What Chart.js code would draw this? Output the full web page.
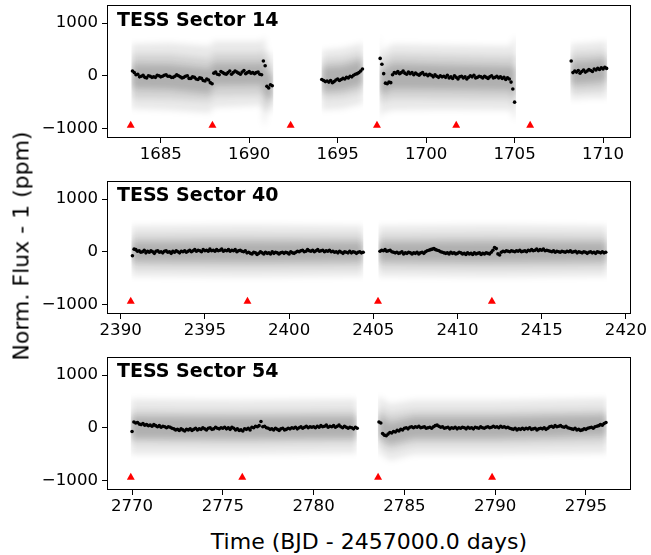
<!DOCTYPE html>
<html>
<head>
<meta charset="utf-8">
<script src="https://cdn.jsdelivr.net/npm/chart.js@4.4.0/dist/chart.umd.min.js"></script>
<style>
  body { margin: 0; background: #fff; }
  #fig { position: relative; width: 651px; height: 555px; background: #fff; font-family: "DejaVu Sans", sans-serif; color: #000; }
  #fig canvas { position: absolute; left: 0; }
  .sector { position: absolute; left: 117px; font-weight: bold; font-size: 19px; line-height: 19px; white-space: nowrap; }
  #ylab { position: absolute; left: 21px; top: 246px; font-size: 22px; white-space: nowrap; transform: translate(-50%, -50%) rotate(-90deg); }
  #xlab { position: absolute; left: 369px; top: 541px; font-size: 22px; white-space: nowrap; transform: translate(-50%, -50%); }
</style>
</head>
<body>
<div id="fig">
  <canvas id="c14" width="651" height="170" style="top:0px"></canvas>
  <canvas id="c40" width="651" height="170" style="top:176px"></canvas>
  <canvas id="c54" width="651" height="170" style="top:352px"></canvas>
  <div class="sector" style="top:10px">TESS Sector 14</div>
  <div class="sector" style="top:185px">TESS Sector 40</div>
  <div class="sector" style="top:361px">TESS Sector 54</div>
  <div id="ylab">Norm. Flux - 1 (ppm)</div>
  <div id="xlab">Time (BJD - 2457000.0 days)</div>
</div>
<script>
// axis ticks
const yTicks = [-1000, 0, 1000];
const s14Ticks = [1685, 1690, 1695, 1700, 1705, 1710];
const s40Ticks = [2390, 2395, 2400, 2405, 2410, 2415, 2420];
const s54Ticks = [2770, 2775, 2780, 2785, 2790, 2795];

// binned light curve: start time of each data segment + flux (ppm) per 0.1 d bin
const binWidth = 0.1;
const s14BinStart = [1683.4, 1694.1, 1697.4, 1708.2];
const s14BinFlux = [
  [90,60,20,30,-20,-10,10, -30,-40,0,-10,-30,-20,-30,10,0,-20, -10,10,20,-10,-10,-30,-30,-10,20,0,
   -20,-40,-30,-10,0,-50,-50,-20,-30,-60, -70,-40,-50,-90,-100,-60,-80,-130,-150,
   50,70,30,20,80,60,40,30,60,90,30, 60,90,70,50,30,70,100,40,60,80, 50,60,40,60,70,30,20, 280,190,-200,-230,-170,-190],
  [-70,-90,-110,-100,-120,-90,-130,-110,-80,-60,-90,-70,-50,-60,-30,-40,-10,-20,10,30,40,60,90,130],
  [330,220,40,-140,-150,-120,-130, 20,60,50,80,40,60,90,50,30,70, 40,60,20,50,30,10,40,60,20,30,
   0,30,10,-20,20,-10,-30,0,-20,-10, -30,10,-40,-20,-50,0,-30,-60,-20,-10, -40,-20,-60,-30,0,-20,10,-40,-30,-10,
   -20,-40,-10,-30,-50,-20,0,-40,-30,-10, -40,-20,-50,-30,-70,-40,-60,-120,-250,-500],
  [280,60,90,70,100,50,80,110,70,90,120,100,80,130,110,140,120,150,130,160,140]
];
const s40BinStart = [2390.7, 2405.4];
const s40BinFlux = [
  [-75,50,40,10,20,-10,0,30,-20,10, -10,20,0,-30,10,20,-10,0,-20,10, 20,-10,0,-30,10,-10,20,0,-20,10,
   0,20,-10,10,30,0,20,40,10,30, 20,0,40,20,30,10,50,20,30,10, 40,20,30,50,10,30,20,40,10,30,
   20,40,0,20,30,10,0,20,-20,-10, -30,-40,-10,-20,-50,-30,0,-20,-40,-10, -30,-20,-40,0,-30,-10,-20,-40,-20,-10,
   -30,-10,-20,-40,0,-20,-30,-10,10,0, 20,30,0,10,40,20,10,30,0,20, 40,10,20,30,0,20,10,30,0,10,
   -10,0,-20,10,-10,-30,0,-10,-20,10, -20,0,-10,-30,-10,0,-20,-10],
  [10,30,20,40,10,20,30,0,-10,-20, -10,-30,-20,0,-40,-20,-30,-10,-20,-40, -20,-30,-10,-40,-20,-10,-30,0,20,30,
   40,50,60,40,30,20,0,-10,-20,-30, -20,-40,-10,-30,-20,-40,-30,-10,-20,-40, -30,-50,-20,-40,-30,-50,-20,-40,-30,-20,
   -50,-30,-40,-20,-30,-40,-10,30,80,60, -40,-60,-10,10,0,20,10,0,20,10, 0,20,10,30,0,10,20,0,30,20,
   40,20,30,50,20,40,30,50,20,30, 20,10,0,20,-10,10,0,-10,10,0, -10,10,0,20,-10,0,10,-20,0,-10,
   -20,0,-10,-30,-10,0,-20,-10,-30,0, -10,-20,0,-20,-10]
];
const s54BinStart = [2770.0, 2783.6];
const s54BinFlux = [
  [-70,110,90,100,70,60,80,50,60,40, 50,30,60,40,20,40,10,30,20,0, 20,10,-10,-20,-40,-30,-50,-20,-40,-60,
   -30,-40,-20,-50,-30,-10,-40,-20,-30,0, -20,-40,-10,0,-30,-20,10,-10,-20,0, -10,10,-20,0,-30,10,-10,-40,-20,-50,
   -40,-60,-20,-30,-10,-40,10,0,30,20, 40,120,20,30,0,-10,-30,-20,-40,-10, -30,-50,-20,-10,-40,-30,-10,-20,0,-10,
   10,-20,0,20,-10,10,30,0,20,10, 20,0,30,10,40,20,30,50,10,30, 20,40,10,30,50,20,0,30,10,-10, 10,0,-20,10,-10],
  [110,90,-110,-140,-150,-120,-90,-100,-70,-80, -50,-60,-30,-40,-10,0,-20,10,20,0, 20,10,30,0,10,20,-10,0,10,-10,
   20,40,50,30,10,20,-10,0,10,-20, 0,-10,10,-20,0,-10,10,0,-20,10, -10,0,-20,10,0,-10,20,0,-10,10,
   20,0,10,30,10,20,0,30,10,20, 0,10,-10,-20,-30,-10,-40,-20,-30,-10, -30,-10,-20,0,-30,-20,-10,-40,-20,-10,
   -20,0,-30,-10,20,30,10,40,20,30, 40,20,10,30,0,-10,-20,-30,-10,-40, -30,-50,-40,-20,-30,-10,0,10,-10,20,
   30,40,60,50,80,100]
];

// unbinned scatter, read as envelopes: [time, outerLo, midLo, coreLo, coreHi, midHi, outerHi]
const s14Scatter = [
  [[1683.34,-620,-420,-230,220,400,600],[1685.5,-650,-430,-250,210,400,620],[1687.8,-700,-480,-330,130,320,560],
   [1687.95,-600,-380,-180,240,420,650],[1690.7,-560,-360,-170,240,420,650],[1690.85,-1000,-700,-350,300,500,750],
   [1691.0,-700,-550,-420,60,250,450],[1691.36,-650,-520,-400,20,200,400]],
  [[1694.09,-650,-420,-290,150,300,480],[1695.3,-620,-400,-260,180,330,520],[1696.45,-520,-300,-150,300,430,620]],
  [[1697.36,-850,-550,-300,250,450,800],[1697.5,-700,-480,-330,80,250,450],[1698.1,-650,-420,-240,230,400,600],
   [1701.0,-640,-430,-250,200,380,580],[1704.8,-650,-440,-270,170,350,560],[1705.0,-850,-600,-400,150,400,750],
   [1705.08,-800,-550,-400,150,400,700]],
  [[1708.15,-450,-300,-150,260,420,600],[1709.2,-420,-280,-130,280,430,620],[1710.23,-420,-250,-90,320,450,650]]
];
const s40Scatter = [
  [[2390.64,-460,-300,-170,170,310,490],[2397.5,-480,-310,-180,180,320,510],[2404.41,-460,-300,-170,170,310,490]],
  [[2405.3,-460,-300,-170,170,310,490],[2412.0,-480,-310,-180,180,320,510],[2418.88,-460,-300,-170,170,310,490]]
];
const s54Scatter = [
  [[2769.93,-500,-300,-190,200,330,540],[2776.0,-500,-310,-200,190,320,520],[2782.38,-480,-290,-180,200,330,540]],
  [[2783.54,-450,-280,-150,250,380,600],[2784.2,-620,-420,-300,80,250,450],[2785.5,-500,-310,-190,190,320,520],
   [2790.0,-500,-310,-190,190,320,520],[2796.14,-480,-280,-130,230,350,560]]
];

// predicted transit times (marker drawn at a fixed flux level)
const transitLevel = -940;
const s14Transits = [1683.3, 1687.92, 1692.34, 1697.22, 1701.70, 1705.88];
const s40Transits = [2390.6, 2397.53, 2405.28, 2412.04];
const s54Transits = [2769.93, 2776.07, 2783.55, 2789.83];

const fmt = v => (v < 0 ? '\u2212' + Math.abs(v) : String(v));
const tickFont = { family: 'DejaVu Sans', size: 16.6 };

const framePlugin = {
  id: 'frame',
  afterDatasetsDraw(chart) {
    const a = chart.chartArea, ctx = chart.ctx;
    ctx.filter = 'none';
    ctx.save();
    ctx.strokeStyle = '#000';
    ctx.lineWidth = 1;
    ctx.strokeRect(Math.round(a.left) + 0.5, Math.round(a.top) + 0.5, Math.round(a.right - a.left) - 1, Math.round(a.bottom - a.top) - 1);
    ctx.restore();
  }
};

// soften the scatter bands so they look like a cloud of faint points
const softPlugin = {
  id: 'soft',
  beforeDatasetsDraw(chart) { chart.ctx.filter = 'blur(3px)'; },
  beforeDatasetDraw(chart, args) { if (args.index < 2) chart.ctx.filter = 'none'; }
};

function makePanel(id, xMin, xMax, xTicks, binStart, binFlux, scatter, transits) {
  const datasets = [];
  datasets.push({
    type: 'scatter', order: 0,
    data: transits.map(t => ({ x: t, y: transitLevel })),
    pointStyle: 'triangle', pointRadius: 4.6, backgroundColor: '#ff0000', borderWidth: 0
  });
  const pts = [];
  binStart.forEach((t0, k) => binFlux[k].forEach((v, i) => pts.push({ x: t0 + i * binWidth, y: v })));
  datasets.push({
    type: 'scatter', order: 1, data: pts,
    pointRadius: 1.8, backgroundColor: '#000', borderWidth: 0
  });
  const layers = [[1, 6, 0.09], [2, 5, 0.1], [3, 4, 0.16]];
  scatter.forEach(seg => {
    layers.forEach(([lo, hi, a]) => {
      datasets.push({
        type: 'line', order: 2, data: seg.map(r => ({ x: r[0], y: r[hi] })),
        borderWidth: 0, borderColor: 'rgba(0,0,0,0)', pointRadius: 0, tension: 0,
        fill: '+1', backgroundColor: 'rgba(0,0,0,' + a + ')'
      });
      datasets.push({
        type: 'line', order: 2, data: seg.map(r => ({ x: r[0], y: r[lo] })),
        borderWidth: 0, borderColor: 'rgba(0,0,0,0)', pointRadius: 0, tension: 0, fill: false
      });
    });
  });

  return new Chart(document.getElementById(id), {
    type: 'scatter',
    data: { datasets },
    options: {
      responsive: false,
      animation: false,
      devicePixelRatio: 1,
      layout: { padding: { left: 0, right: 20, top: 3, bottom: 2 } },
      plugins: {
        legend: { display: false },
        tooltip: { enabled: false },
        filler: { propagate: false, drawTime: 'beforeDatasetDraw' }
      },
      scales: {
        x: {
          type: 'linear', min: xMin, max: xMax,
          afterBuildTicks: s => { s.ticks = xTicks.map(v => ({ value: v })); },
          afterFit: s => { s.height = 30; s.paddingLeft = 0; s.paddingRight = 0; },
          ticks: { font: tickFont, color: '#000', padding: 2, maxRotation: 0, autoSkip: false, callback: v => String(v) },
          grid: { drawOnChartArea: false, drawTicks: true, tickLength: 5, color: '#000' },
          border: { display: false }
        },
        y: {
          min: -1180, max: 1350,
          afterBuildTicks: s => { s.ticks = yTicks.map(v => ({ value: v })); },
          afterFit: s => { s.width = 107; s.paddingTop = 0; s.paddingBottom = 0; },
          ticks: { font: tickFont, color: '#000', padding: 4, callback: fmt },
          grid: { drawOnChartArea: false, drawTicks: true, tickLength: 5, color: '#000' },
          border: { display: false }
        }
      }
    },
    plugins: [softPlugin, framePlugin]
  });
}

makePanel('c14', 1681.96, 1711.58, s14Ticks, s14BinStart, s14BinFlux, s14Scatter, s14Transits);
makePanel('c40', 2389.19, 2420.3, s40Ticks, s40BinStart, s40BinFlux, s40Scatter, s40Transits);
makePanel('c54', 2768.62, 2797.48, s54Ticks, s54BinStart, s54BinFlux, s54Scatter, s54Transits);
</script>
</body>
</html>
